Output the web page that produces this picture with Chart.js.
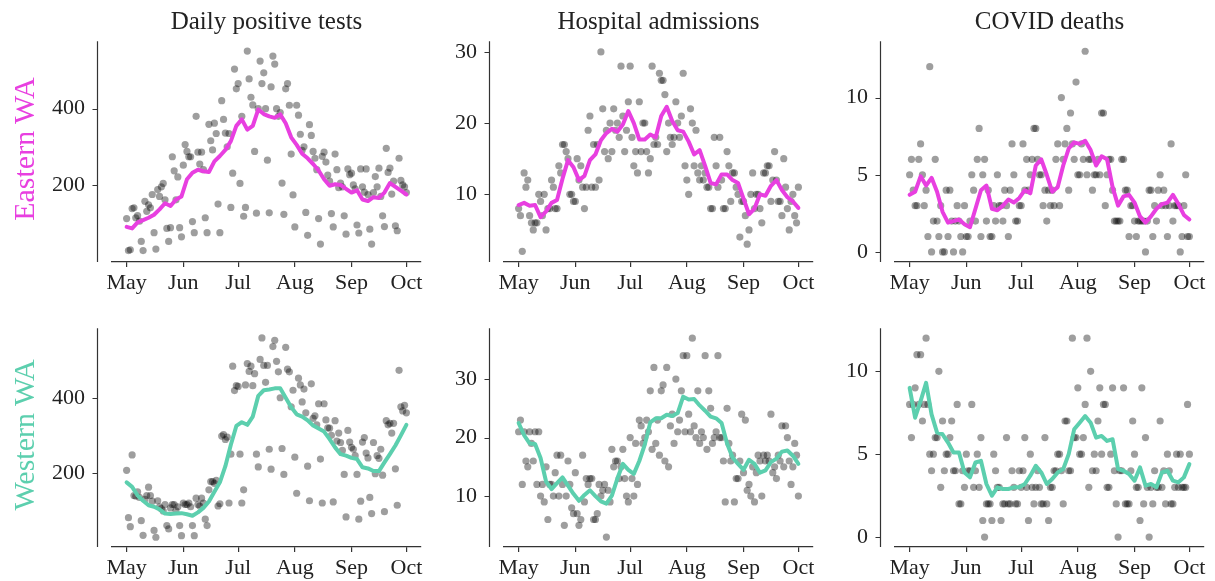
<!DOCTYPE html>
<html>
<head>
<meta charset="utf-8">
<script src="https://cdn.jsdelivr.net/npm/chart.js@4.4.1/dist/chart.umd.min.js"></script>
<style>
    body {
        margin: 0;
        width: 1215px;
        height: 581px;
        overflow: hidden;
        background: #ffffff;
        position: relative;
        font-family: "Liberation Serif", serif;
    }
    canvas {
        position: absolute;
    }
    .col-title {
        position: absolute;
        top: 8px;
        transform: translateX(-50%);
        font-size: 25px;
        line-height: 25px;
        color: #222222;
        white-space: nowrap;
    }
    .row-label {
        position: absolute;
        transform: translate(-50%, -50%) rotate(-90deg);
        font-size: 30px;
        line-height: 30px;
        white-space: nowrap;
    }
</style>
</head>
<body>
<script>
// x values are days since May 1
const monthTicks = [0, 31, 61, 92, 123, 153];
const monthLabels = ["May", "Jun", "Jul", "Aug", "Sep", "Oct"];

const testsTicks = [200, 400];
const hospTicks = [10, 20, 30];
const deathsTicks = [0, 5, 10];

const columnTitles = ["Daily positive tests", "Hospital admissions", "COVID deaths"];
const rowTitles = ["Eastern WA", "Western WA"];

// rolling average is read every 3 days
const AVG_STEP = 3;

const eastTestsDaily = [
    112, 28, 30, 138, 140, 114, 120, 105, 52, 28,
    157, 131, 148, 140, 175, 75, 32, 188, 170, 195,
    204, 161, 86, 52, 88, 274, 237, 161, 221, 88,
    64, 252, 306, 288, 274, 274, 104, 75, 380, 286,
    255, 286, 240, 114, 75, 359, 316, 292, 362, 335,
    150, 75, 421, 372, 336, 300, 335, 141, 231, 504,
    452, 466, 204, 380, 118, 141, 551, 478, 430, 410,
    288, 126, 400, 525, 466, 494, 400, 265, 127, 457,
    538, 517, 400, 380, 390, 205, 123, 452, 466, 409,
    281, 174, 90, 409, 383, 333, 291, 300, 128, 68,
    358, 330, 288, 270, 240, 112, 45, 275, 286, 260,
    226, 210, 125, 90, 281, 240, 193, 205, 195, 119,
    71, 242, 227, 231, 200, 190, 95, 74, 242, 195,
    181, 242, 175, 84, 45, 180, 222, 195, 244, 170,
    119, 91, 296, 233, 244, 176, 210, 93, 80, 270,
    212, 200, 195, 180
];
const eastTestsAvg = [
    90, 86, 102, 108, 114, 122, 136, 152, 145, 162,
    170, 215, 232, 240, 236, 234, 262, 276, 292, 315,
    355, 372, 345, 355, 398, 386, 380, 376, 385, 362,
    325, 305, 282, 270, 255, 238, 215, 198, 202, 200,
    190, 180, 186, 162, 158, 168, 166, 180, 205, 195,
    185, 175
];

const eastHospDaily = [
    8, 7, 2, 13, 11, 12, 7, 6, 5, 6,
    6, 10, 9, 7, 10, 5, 8, 8, 12, 11,
    8, 8, 14, 13, 17, 17, 16, 15, 10, 10,
    9, 9, 15, 12, 14, 11, 8, 11, 19, 21,
    11, 17, 11, 17, 12, 30, 22, 16, 19, 15,
    20, 16, 22, 19, 20, 18, 28, 21, 16, 19,
    23, 28, 18, 14, 16, 13, 23, 16, 20, 20,
    16, 13, 15, 28, 17, 18, 17, 27, 26, 26,
    24, 16, 20, 18, 17, 18, 23, 20, 18, 21,
    27, 14, 12, 10, 22, 20, 14, 19, 13, 12,
    14, 12, 13, 11, 11, 8, 8, 18, 14, 11,
    18, 12, 8, 8, 16, 14, 9, 13, 13, 11,
    10, 4, 9, 9, 7, 3, 5, 10, 13, 8,
    10, 10, 8, 6, 13, 13, 14, 14, 9, 12,
    16, 12, 9, 9, 7, 15, 11, 8, 5, 9,
    10, 7, 6, 11
];
const eastHospAvg = [
    8.5, 8.8, 8.4, 8.5, 6.8, 7.6, 8.8, 9.2, 12.2, 14.8,
    13.8, 12.0, 12.6, 14.8, 15.6, 17.6, 18.6, 19.2, 18.8, 19.8,
    21.7, 20.0, 17.7, 17.7, 18.4, 18.0, 21.0, 22.3, 20.3, 19.0,
    18.8, 17.4, 15.6, 16.2, 14.0, 11.6, 11.4, 12.8, 12.8, 12.0,
    11.6, 9.4, 7.2, 8.0, 10.0, 9.8, 11.2, 12.0, 10.6, 9.6,
    9.0, 8.1
];

const eastDeathsDaily = [
    5, 6, 4, 3, 3, 6, 7, 5, 3, 4,
    1, 12, 0, 2, 6, 2, 1, 3, 0, 0,
    4, 1, 4, 2, 0, 2, 3, 2, 1, 0,
    3, 1, 1, 2, 5, 4, 2, 6, 8, 1,
    5, 6, 2, 4, 1, 1, 3, 2, 5, 3,
    3, 2, 4, 3, 1, 4, 7, 5, 2, 2,
    3, 3, 7, 4, 6, 4, 5, 6, 8, 8,
    6, 5, 5, 3, 4, 2, 4, 3, 4, 3,
    6, 7, 3, 10, 6, 7, 8, 4, 9, 7,
    6, 11, 5, 5, 7, 6, 13, 5, 6, 6,
    4, 5, 5, 6, 5, 9, 9, 3, 5, 6,
    6, 4, 2, 2, 2, 2, 6, 6, 4, 4,
    1, 3, 3, 2, 1, 2, 2, 2, 2, 0,
    2, 4, 4, 1, 3, 2, 4, 5, 3, 4,
    3, 1, 3, 7, 2, 3, 3, 3, 0, 1,
    3, 5, 1, 1
];
const eastDeathsAvg = [
    3.7, 3.9, 4.9, 4.3, 4.8, 3.9, 2.6, 1.9, 2.0, 2.1,
    1.8, 1.6, 2.8, 4.0, 4.3, 2.8, 2.7, 3.0, 3.4, 3.2,
    3.5, 4.0, 3.8, 5.6, 6.0, 5.0, 3.9, 4.2, 5.6, 6.7,
    7.1, 7.0, 7.2, 6.6, 5.6, 6.2, 6.0, 4.2, 3.0, 3.6,
    3.7, 3.2, 2.3, 1.9, 2.3, 2.8, 3.1, 3.2, 3.7, 3.1,
    2.4, 2.1
];

const westTestsDaily = [
    207, 81, 57, 248, 140, 138, 150, 135, 73, 34,
    130, 140, 162, 140, 125, 47, 29, 126, 110, 105,
    99, 116, 60, 51, 107, 116, 116, 99, 110, 60,
    33, 120, 116, 116, 120, 110, 60, 33, 133, 116,
    112, 133, 120, 77, 60, 155, 177, 177, 172, 180,
    112, 118, 298, 302, 289, 295, 120, 250, 484, 419,
    432, 430, 250, 120, 155, 434, 491, 470, 484, 432,
    464, 250, 216, 502, 559, 486, 441, 486, 263, 210,
    536, 553, 497, 469, 400, 265, 196, 534, 476, 469,
    376, 420, 242, 146, 452, 434, 389, 423, 360, 218,
    126, 437, 345, 352, 328, 384, 237, 120, 384, 341,
    320, 319, 300, 123, 339, 285, 306, 281, 260, 196,
    83, 313, 282, 268, 263, 246, 196, 77, 125, 282,
    294, 253, 240, 135, 92, 281, 198, 246, 239, 263,
    194, 97, 339, 328, 332, 306, 332, 211, 114, 473,
    376, 365, 380, 360
];
const westTestsAvg = [
    175, 163, 140, 126, 114, 110, 103, 92, 91, 92,
    93, 90, 86, 95, 107, 124, 150, 175, 218, 275,
    325, 335, 328, 350, 405, 420, 422, 425, 425, 400,
    375, 356, 350, 340, 326, 318, 310, 290, 268, 250,
    246, 240, 237, 215, 212, 205, 205, 228, 250, 273,
    300, 328
];

const westHospDaily = [
    21, 23, 12, 21, 16, 15, 21, 19, 16, 21,
    12, 21, 10, 12, 9, 15, 6, 12, 12, 10,
    14, 17, 10, 17, 12, 5, 10, 16, 12, 8,
    7, 14, 7, 5, 6, 17, 9, 13, 12, 13,
    13, 6, 6, 7, 12, 10, 11, 12, 3, 11,
    9, 18, 15, 16, 16, 13, 15, 18, 13, 10,
    9, 20, 13, 10, 19, 12, 23, 22, 19, 20,
    23, 21, 28, 18, 32, 19, 23, 17, 28, 29,
    16, 32, 15, 22, 24, 19, 30, 21, 23, 28,
    34, 21, 34, 24, 21, 37, 22, 20, 28, 19,
    21, 20, 34, 18, 28, 25, 19, 20, 21, 34,
    20, 20, 16, 9, 25, 19, 16, 17, 9, 13,
    13, 16, 24, 14, 23, 11, 12, 10, 15, 9,
    14, 17, 16, 10, 17, 16, 17, 16, 24, 14,
    15, 13, 17, 16, 22, 15, 22, 20, 16, 12,
    15, 19, 17, 10
];
const westHospAvg = [
    22.5, 20.4, 19.0, 18.9, 16.5, 12.5, 11.2, 12.2, 13.2, 11.8,
    10.4, 9.2, 10.2, 11.0, 10.0, 9.1, 8.7, 10.1, 13.0, 15.5,
    14.5, 13.8, 16.0, 18.8, 22.6, 23.3, 23.3, 23.9, 23.7, 24.2,
    27.0, 26.5, 26.6, 25.5, 24.6, 23.6, 23.3, 22.5, 19.0, 16.6,
    15.5, 14.5, 16.2, 15.5, 14.0, 14.4, 15.8, 16.4, 17.6, 17.8,
    16.9, 15.5
];

const westDeathsDaily = [
    8, 6, 8, 9, 11, 8, 11, 7, 8, 12,
    8, 5, 4, 5, 6, 6, 10, 3, 7, 4,
    5, 5, 6, 7, 4, 4, 8, 2, 2, 4,
    3, 5, 4, 4, 8, 3, 4, 5, 3, 6,
    1, 0, 2, 2, 2, 1, 5, 4, 3, 3,
    1, 2, 2, 6, 2, 2, 4, 3, 2, 2,
    4, 3, 4, 6, 3, 1, 5, 3, 2, 3,
    4, 3, 2, 2, 6, 2, 1, 3, 3, 4,
    4, 5, 5, 4, 2, 7, 7, 4, 4, 12,
    6, 6, 9, 5, 5, 6, 8, 12, 3, 10,
    4, 5, 4, 7, 9, 5, 8, 8, 3, 3,
    5, 9, 4, 2, 0, 4, 4, 9, 2, 2,
    2, 4, 7, 5, 3, 3, 1, 9, 2, 6,
    3, 0, 3, 2, 4, 3, 3, 7, 3, 4,
    2, 5, 4, 2, 2, 3, 5, 3, 5, 3,
    3, 3, 8, 5
];
const westDeathsAvg = [
    9.0, 7.2, 8.2, 9.3, 7.4, 6.3, 6.2, 5.7, 5.1, 5.1,
    3.9, 3.6, 4.5, 4.6, 3.2, 2.5, 3.0, 2.9, 2.9, 3.0,
    3.0, 3.2, 3.7, 4.3, 3.9, 3.2, 3.5, 3.9, 4.1, 5.0,
    6.5, 6.9, 7.3, 6.9, 6.0, 6.1, 5.8, 5.9, 4.1, 4.0,
    3.8, 3.4, 4.2, 3.1, 3.2, 3.0, 3.9, 4.0, 3.4, 3.3,
    3.6, 4.4
];

const eastColor = "#e83fe0";
const westColor = "#5ccfae";
const inkColor = "#222222";
const axisColor = "#333333";
const dotColor = "rgba(0, 0, 0, 0.38)";
const fontFamily = "'Liberation Serif', serif";

// layout of the 2x3 grid (plot area boxes)
const colLeft = [112, 504, 895];
const areaWidth = 309;
const rowTop = [36, 323];
const rowHeight = [226, 224];
const yAxisWidth = 100;
const padTop = 10;
const padRight = 25;
const xAxisHeight = 40;
const spineOffset = 15;

const panels = [
    { row: 0, col: 0, daily: eastTestsDaily, avg: eastTestsAvg, color: eastColor, yMin: -2, yMax: 577, yTicks: testsTicks },
    { row: 0, col: 1, daily: eastHospDaily, avg: eastHospAvg, color: eastColor, yMin: 0.5, yMax: 31.5, yTicks: hospTicks },
    { row: 0, col: 2, daily: eastDeathsDaily, avg: eastDeathsAvg, color: eastColor, yMin: -0.65, yMax: 13.65, yTicks: deathsTicks },
    { row: 1, col: 0, daily: westTestsDaily, avg: westTestsAvg, color: westColor, yMin: 3, yMax: 585, yTicks: testsTicks },
    { row: 1, col: 1, daily: westHospDaily, avg: westHospAvg, color: westColor, yMin: 1.3, yMax: 38.7, yTicks: hospTicks },
    { row: 1, col: 2, daily: westDeathsDaily, avg: westDeathsAvg, color: westColor, yMin: -0.6, yMax: 12.6, yTicks: deathsTicks }
];

// y spine is drawn offset to the left of the plot area, like a despined seaborn axis
const offsetSpine = {
    id: "offsetSpine",
    afterDraw(chart) {
        const { ctx, chartArea, scales } = chart;
        const x0 = Math.round(chartArea.left - spineOffset) + 0.5;
        ctx.save();
        ctx.strokeStyle = axisColor;
        ctx.lineWidth = 1.2;
        ctx.beginPath();
        ctx.moveTo(x0, chartArea.top);
        ctx.lineTo(x0, chartArea.bottom);
        scales.y.ticks.forEach((tick) => {
            const py = Math.round(scales.y.getPixelForValue(tick.value)) + 0.5;
            ctx.moveTo(x0 - 5, py);
            ctx.lineTo(x0, py);
        });
        ctx.stroke();
        ctx.restore();
    }
};

function addText(className, text, styles) {
    const div = document.createElement("div");
    div.className = className;
    div.textContent = text;
    Object.assign(div.style, styles);
    document.body.appendChild(div);
}

function createPanel(panel) {
    const canvas = document.createElement("canvas");
    const width = yAxisWidth + areaWidth + padRight;
    const height = padTop + rowHeight[panel.row] + xAxisHeight;
    canvas.width = width;
    canvas.height = height;
    canvas.style.left = `${colLeft[panel.col] - yAxisWidth}px`;
    canvas.style.top = `${rowTop[panel.row] - padTop}px`;
    canvas.style.width = `${width}px`;
    canvas.style.height = `${height}px`;
    document.body.appendChild(canvas);

    const dots = panel.daily.map((v, i) => ({ x: i, y: v }));
    const smooth = panel.avg.map((v, i) => ({ x: i * AVG_STEP, y: v }));

    new Chart(canvas, {
        type: "scatter",
        data: {
            datasets: [
                {
                    data: smooth,
                    showLine: true,
                    borderColor: panel.color,
                    borderWidth: 4,
                    borderJoinStyle: "round",
                    borderCapStyle: "round",
                    pointRadius: 0,
                    tension: 0,
                    order: 0
                },
                {
                    data: dots,
                    backgroundColor: dotColor,
                    borderWidth: 0,
                    pointRadius: 3.6,
                    order: 1
                }
            ]
        },
        options: {
            responsive: false,
            animation: false,
            devicePixelRatio: 1,
            layout: { padding: { top: padTop, right: padRight, left: 0, bottom: 0 } },
            plugins: {
                legend: { display: false },
                tooltip: { enabled: false }
            },
            scales: {
                x: {
                    type: "linear",
                    min: -8,
                    max: 161,
                    afterBuildTicks: (scale) => {
                        scale.ticks = monthTicks.map((value) => ({ value }));
                    },
                    afterFit: (scale) => {
                        scale.height = xAxisHeight;
                    },
                    ticks: {
                        autoSkip: false,
                        maxRotation: 0,
                        padding: 3,
                        color: inkColor,
                        font: { family: fontFamily, size: 22 },
                        callback: (value) => monthLabels[monthTicks.indexOf(value)]
                    },
                    grid: {
                        drawOnChartArea: false,
                        drawTicks: true,
                        tickLength: 5,
                        color: axisColor,
                        lineWidth: 1.2
                    },
                    border: { display: true, color: axisColor, width: 1.2 }
                },
                y: {
                    type: "linear",
                    min: panel.yMin,
                    max: panel.yMax,
                    afterBuildTicks: (scale) => {
                        scale.ticks = panel.yTicks.map((value) => ({ value }));
                    },
                    afterFit: (scale) => {
                        scale.width = yAxisWidth;
                    },
                    ticks: {
                        padding: 2,
                        color: inkColor,
                        font: { family: fontFamily, size: 22 }
                    },
                    // hidden grid, its tick length only pushes the labels clear of the offset spine
                    grid: { display: false, drawTicks: true, tickLength: 25 },
                    border: { display: false }
                }
            }
        },
        plugins: [offsetSpine]
    });
}

function renderLabels() {
    columnTitles.forEach((title, i) => {
        addText("col-title", title, { left: `${colLeft[i] + areaWidth / 2}px`, color: inkColor });
    });
    const rowColors = [eastColor, westColor];
    rowTitles.forEach((title, i) => {
        addText("row-label", title, {
            left: "24px",
            top: `${rowTop[i] + rowHeight[i] / 2}px`,
            color: rowColors[i]
        });
    });
}

panels.forEach(createPanel);
renderLabels();
</script>
</body>
</html>
